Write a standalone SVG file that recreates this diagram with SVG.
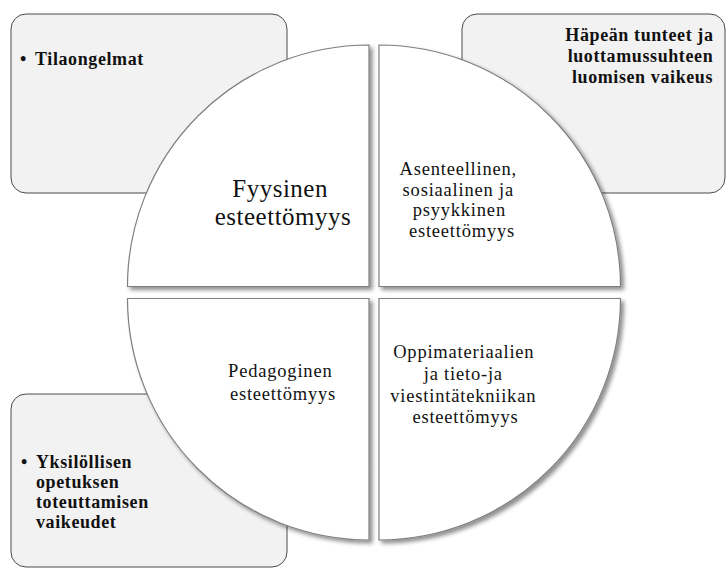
<svg xmlns="http://www.w3.org/2000/svg" width="726" height="568" viewBox="0 0 726 568">
  <defs>
    <filter id="shadow" x="-10%" y="-10%" width="125%" height="125%">
      <feGaussianBlur in="SourceAlpha" stdDeviation="2"/>
      <feOffset dx="2.5" dy="2.5" result="off"/>
      <feComponentTransfer><feFuncA type="linear" slope="0.45"/></feComponentTransfer>
      <feMerge><feMergeNode/><feMergeNode in="SourceGraphic"/></feMerge>
    </filter>
  </defs>
  <style>
    .box { fill: #f2f2f2; stroke: #4a4a4a; stroke-width: 1; }
    .quarter { fill: #ffffff; stroke: #7f7f7f; stroke-width: 1.2; filter: url(#shadow); }
    .qtext { font-family: "Liberation Serif", "Times New Roman", serif; fill: #111; text-anchor: middle; font-size: 18.5px; letter-spacing: 0.8px; }
    .big { font-size: 25px; letter-spacing: 0.5px; }
    .btext { font-family: "Liberation Serif", "Times New Roman", serif; font-weight: bold; fill: #111; font-size: 18px; letter-spacing: 0.6px; }
  </style>

  <!-- side boxes (behind the circle) -->
  <g id="box-tilaongelmat">
    <rect class="box" x="11" y="14" width="276" height="179" rx="15"/>
    <text class="btext"><tspan x="20" y="65">•</tspan><tspan x="35" y="65">Tilaongelmat</tspan></text>
  </g>
  <g id="box-hapea">
    <rect class="box" x="462" y="14" width="263" height="179" rx="15"/>
    <text class="btext" text-anchor="middle">
      <tspan x="642" y="40.5">Häpeän tunteet ja</tspan>
      <tspan x="643" y="61.5">luottamussuhteen</tspan>
      <tspan x="642.5" y="82.5">luomisen vaikeus</tspan>
    </text>
  </g>
  <g id="box-yksilollisen">
    <rect class="box" x="11" y="394" width="276" height="173" rx="15"/>
    <text class="btext">
      <tspan x="21" y="468">•</tspan><tspan x="36" y="468">Yksilöllisen</tspan>
      <tspan x="36" y="488">opetuksen</tspan>
      <tspan x="36" y="508">toteuttamisen</tspan>
      <tspan x="36" y="528">vaikeudet</tspan>
    </text>
  </g>

  <!-- circle split into four quarters -->
  <g id="q-fyysinen">
    <path class="quarter" d="M369,286.5 L127.5,286.5 A241.5,241.5 0 0 1 369,45 Z"/>
    <text class="qtext big">
      <tspan x="283.5" y="197">Fyysinen</tspan>
      <tspan x="283" y="225">esteettömyys</tspan>
    </text>
  </g>
  <g id="q-asenteellinen">
    <path class="quarter" d="M379,286.5 L379,45 A241.5,241.5 0 0 1 620.5,286.5 Z"/>
    <text class="qtext">
      <tspan x="461" y="175">Asenteellinen,</tspan>
      <tspan x="461" y="195.5">sosiaalinen ja</tspan>
      <tspan x="462" y="216">psyykkinen</tspan>
      <tspan x="462" y="236.5">esteettömyys</tspan>
    </text>
  </g>
  <g id="q-pedagoginen">
    <path class="quarter" d="M369,298.5 L369,540 A241.5,241.5 0 0 1 127.5,298.5 Z"/>
    <text class="qtext">
      <tspan x="283" y="377">Pedagoginen</tspan>
      <tspan x="283" y="400">esteettömyys</tspan>
    </text>
  </g>
  <g id="q-oppimateriaalien">
    <path class="quarter" d="M379,298.5 L620.5,298.5 A241.5,241.5 0 0 1 379,540 Z"/>
    <text class="qtext">
      <tspan x="466.5" y="358">Oppimateriaalien</tspan>
      <tspan x="466" y="380">ja tieto-ja</tspan>
      <tspan x="466" y="402">viestintätekniikan</tspan>
      <tspan x="465.5" y="423">esteettömyys</tspan>
    </text>
  </g>

  <g id="connectors"></g>
</svg>
